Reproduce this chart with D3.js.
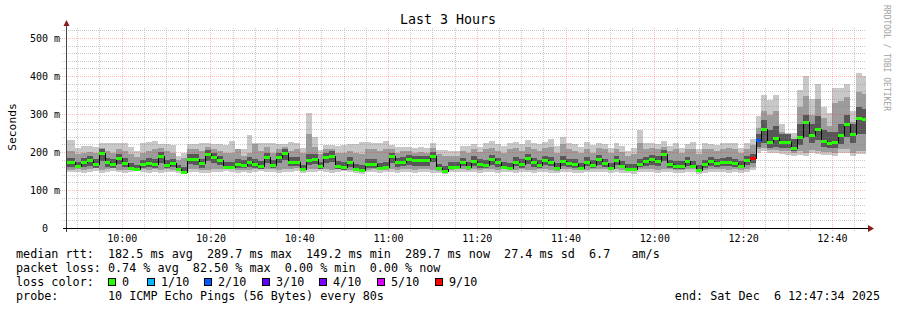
<!DOCTYPE html>
<html>
<head>
<meta charset="utf-8">
<script src="https://cdn.jsdelivr.net/npm/d3@7"></script>
<style>
  body { margin: 0; background: #fff; }
  text { font-family: "DejaVu Sans Mono", monospace; white-space: pre; }
</style>
</head>
<body>
<svg id="chart" width="897" height="310"></svg>
<script>
// one entry per 80s probe step, values in ms
const median = [
  174,165,175,181,171,200,175,171,185,173,160,156,169,173,169,191,167,
  172,156,150,184,184,172,196,187,180,163,163,171,168,175,171,165,189,
  168,188,199,176,176,156,180,183,164,187,192,165,161,175,157,155,171,
  171,160,163,190,174,176,183,179,179,179,192,158,152,163,163,175,
  163,178,170,168,182,174,162,160,176,170,185,174,168,180,176,160,178,172,170,160,176,168,183,
  172,160,179,165,157,157,171,177,183,178,195,169,164,164,177,165,153,169,177,172,174,176,172,165,181,185,
  232,262,228,237,227,228,212,241,281,247,262,231,226,228,246,274,249,291,288
];
const smokeMin = [
  148,150,146,148,152,147,150,152,148,146,150,152,149,147,150,146,150,
  148,145,143,150,150,147,146,148,150,152,150,147,148,146,150,152,148,
  150,147,148,150,152,145,148,150,152,148,147,150,152,148,145,143,148,
  150,146,148,150,147,150,148,147,150,148,147,145,143,148,150,148,
  148,150,146,148,150,147,149,148,146,150,148,147,150,148,146,145,148,150,147,146,148,150,148,
  148,146,150,147,145,144,148,150,149,147,150,148,146,145,150,148,143,147,148,150,148,147,150,146,148,155,
  200,205,198,198,195,194,192,194,190,198,195,194,194,190,200,200,190,195,195
];
const smokeMax = [
  233,212,216,216,214,225,225,225,225,225,214,203,225,228,231,222,222,
  220,190,200,222,222,226,226,222,222,220,231,200,210,247,225,225,225,
  225,222,222,227,225,212,305,242,207,220,220,218,220,222,222,227,227,
  226,225,229,220,214,214,214,212,214,212,225,207,207,203,203,216,
  218,222,215,225,230,222,218,226,228,222,232,226,222,228,235,218,242,226,222,215,228,220,226,
  222,212,226,218,205,212,260,225,226,222,230,218,225,212,222,228,210,225,222,220,226,225,225,212,225,235,
  295,352,337,352,276,251,251,365,402,340,379,321,305,370,370,379,308,410,400
];
const smokeLo = [
  155,156,153,156,158,155,157,158,155,153,156,157,156,155,157,154,157,
  155,152,150,157,157,155,155,156,157,158,157,155,155,153,157,158,156,
  157,155,156,157,158,152,156,157,158,156,155,157,158,155,152,150,155,
  157,153,155,157,155,157,156,155,157,156,154,152,150,155,157,156,
  155,157,154,156,157,155,156,155,154,157,155,155,157,156,153,152,156,157,155,153,155,157,156,
  156,154,157,155,152,151,156,157,157,155,157,156,154,153,157,156,150,155,156,157,156,155,157,154,156,162,
  208,212,206,206,204,203,200,204,200,206,204,202,202,200,208,208,200,205,205
];
const smokeHi = [
  205,195,200,202,198,212,205,198,210,205,195,188,200,205,210,212,205,
  198,180,185,210,208,205,215,210,205,200,198,208,190,198,222,205,215,
  200,210,215,205,210,198,250,215,195,210,208,200,198,205,200,195,210,
  208,205,210,210,200,205,205,200,202,200,212,195,190,192,192,205,
  200,210,202,208,212,205,200,210,212,205,215,208,205,212,215,200,222,210,205,198,210,200,212,
  208,198,210,202,192,196,225,210,212,208,215,205,210,200,208,210,195,208,210,205,210,212,210,200,210,220,
  265,310,300,310,255,240,235,320,350,300,340,290,270,330,335,345,280,360,355
];
const darkLo = [
  162,158,163,165,160,178,162,160,170,162,157,153,160,162,160,172,158,
  162,152,147,170,168,160,178,172,168,158,157,160,158,163,160,157,172,
  158,172,180,165,165,153,168,170,157,172,175,157,155,163,152,150,160,
  160,155,156,172,163,165,168,165,165,165,175,154,148,156,156,164,
  156,165,160,158,168,163,156,155,164,160,170,163,158,166,164,155,165,162,160,155,164,160,168,
  162,156,166,158,152,152,162,165,168,165,178,160,157,157,165,158,150,160,165,162,164,165,162,158,168,172,
  215,225,212,215,212,213,205,220,240,225,232,215,212,212,222,240,225,250,250
];
const darkHi = [
  185,175,186,192,182,210,186,182,196,185,172,168,180,186,182,202,180,
  184,168,162,195,195,184,206,198,192,175,175,183,180,187,184,178,200,
  180,200,210,188,188,168,195,196,176,198,203,177,174,188,170,168,183,
  183,172,176,200,186,188,194,190,190,190,202,170,165,175,175,186,
  176,190,182,180,194,186,174,172,188,182,197,186,180,192,188,172,190,184,182,172,188,180,194,
  184,172,190,177,170,170,183,189,194,190,206,181,177,177,189,177,166,181,189,184,186,188,184,177,192,195,
  250,285,260,270,250,248,235,275,300,275,295,260,255,255,275,300,275,320,315
];
// steps that lost pings
const lossStep = [115, 116];
const lossLevel = ["9/10", "2/10"];

const lossLabels = ["0", "1/10", "2/10", "3/10", "4/10", "5/10", "9/10"];
const lossColors = ["#26ff00", "#00b8ff", "#0059ff", "#5e00ff", "#7e00ff", "#dd00ff", "#ff0000"];
const yTicks = [0, 100, 200, 300, 400, 500];

const statLines = [
  "median rtt:  182.5 ms avg  289.7 ms max  149.2 ms min  289.7 ms now  27.4 ms sd  6.7   am/s",
  "packet loss: 0.74 % avg  82.50 % max  0.00 % min  0.00 % now"
];

const svg = d3.select("#chart");
svg.append("rect").attr("width", 897).attr("height", 310).attr("fill", "#fff");

// dotted grid patterns (1 px on, 1 px off)
const defs = svg.append("defs");
[["minH", 2, 1, "rgba(130,130,130,0.42)"], ["minV", 1, 2, "rgba(130,130,130,0.42)"],
 ["majH", 2, 1, "rgba(255,30,30,0.32)"], ["majV", 1, 2, "rgba(255,30,30,0.32)"]]
  .forEach(([id, w, h, c]) => {
    defs.append("pattern").attr("id", id).attr("patternUnits", "userSpaceOnUse")
      .attr("width", w).attr("height", h)
      .append("rect").attr("width", 1).attr("height", 1).attr("fill", c);
  });

const end = new Date(2025, 11, 6, 12, 47, 34);
const start = d3.timeHour.offset(end, -3);
const firstStep = d3.timeSecond.offset(start, 27);
const stepSec = 80;

const x = d3.scaleTime().domain([start, end]).range([67, 866]);
const y = d3.scaleLinear().domain([0, 500]).range([228.5, 38.5]);
const plotTop = 27;

const colorOf = lbl => lossColors[lossLabels.indexOf(lbl)];

const steps = d3.range(median.length).map(i => {
  const t0 = d3.timeSecond.offset(firstStep, i * stepSec);
  const t1 = d3.timeSecond.offset(firstStep, (i + 1) * stepSec);
  const li = lossStep.indexOf(i);
  return {
    i,
    x0: Math.round(i === 0 ? x(start) : x(t0)),
    x1: Math.round(Math.min(x(t1), x(end))),
    color: li < 0 ? lossColors[0] : colorOf(lossLevel[li])
  };
});

// smoke bands, outer to inner
const bands = [
  {lo: smokeMin, hi: smokeMax, fill: "#c8c8c8"},
  {lo: smokeLo, hi: smokeHi, fill: "#9c9c9c"},
  {lo: darkLo, hi: darkHi, fill: "#575757"}
];
const smoke = svg.append("g").attr("shape-rendering", "crispEdges");
bands.forEach(b => {
  smoke.append("g").attr("fill", b.fill)
    .selectAll("rect")
    .data(steps)
    .join("rect")
    .attr("x", d => d.x0)
    .attr("width", d => d.x1 - d.x0)
    .attr("y", d => Math.round(y(b.hi[d.i])))
    .attr("height", d => Math.round(y(b.lo[d.i])) - Math.round(y(b.hi[d.i])));
});

// grid
const grid = svg.append("g").attr("shape-rendering", "crispEdges");
const minorY = d3.range(20, 540, 20).filter(v => v % 100 !== 0);
const majorY = yTicks.filter(v => v > 0);
const minorX = d3.timeMinute.every(5).range(start, end).filter(t => t.getMinutes() % 20 !== 0);
const majorX = d3.timeMinute.every(20).range(start, end);
const row = v => Math.floor(y(v));
const col = t => Math.floor(x(t));

grid.selectAll(".hmin").data(minorY).join("rect")
  .attr("x", 62).attr("width", 804).attr("y", row).attr("height", 1)
  .attr("fill", "url(#minH)");
grid.selectAll(".vmin").data(minorX).join("rect")
  .attr("x", col).attr("width", 1).attr("y", plotTop).attr("height", 231 - plotTop)
  .attr("fill", "url(#minV)");
grid.selectAll(".hmaj").data(majorY).join("rect")
  .attr("x", 60).attr("width", 806).attr("y", row).attr("height", 1)
  .attr("fill", "url(#majH)");
grid.selectAll(".vmaj").data(majorX).join("rect")
  .attr("x", col).attr("width", 1).attr("y", plotTop).attr("height", 232 - plotTop)
  .attr("fill", "url(#majV)");

// median line: black steps, coloured by loss
const medPts = [];
steps.forEach(d => {
  const yy = Math.round(y(median[d.i])) + 0.5;
  medPts.push([d.x0, yy], [d.x1, yy]);
});
svg.append("path")
  .attr("d", d3.line()(medPts))
  .attr("fill", "none").attr("stroke", "#000").attr("stroke-width", 1)
  .attr("shape-rendering", "crispEdges");
svg.append("g").attr("shape-rendering", "crispEdges")
  .selectAll("rect").data(steps).join("rect")
  .attr("x", d => d.x0)
  .attr("width", d => d.x1 - d.x0)
  .attr("y", d => Math.round(y(median[d.i])) - 1)
  .attr("height", 3)
  .attr("fill", d => d.color);

// axes
svg.append("line").attr("x1", 66.5).attr("x2", 66.5).attr("y1", 232).attr("y2", 24)
  .attr("stroke", "#444").attr("shape-rendering", "crispEdges");
svg.append("line").attr("x1", 63).attr("x2", 869).attr("y1", 228.5).attr("y2", 228.5)
  .attr("stroke", "#000").attr("shape-rendering", "crispEdges");
svg.append("path").attr("d", "M63.5,26L69.5,26L66.5,20Z").attr("fill", "#8b1a1a");
svg.append("path").attr("d", "M868,225L868,232L874,228.5Z").attr("fill", "#8b1a1a");

// y labels
svg.append("g").attr("font-size", 10).attr("fill", "#000")
  .selectAll("text").data(yTicks).join("text")
  .attr("x", d => d === 0 ? 48 : 60)
  .attr("y", d => y(d) + 3.5)
  .attr("text-anchor", "end")
  .text(d => d === 0 ? "0" : d + " m");

// x labels
svg.append("g").attr("font-size", 10).attr("fill", "#000")
  .selectAll("text").data(majorX).join("text")
  .attr("x", d => x(d))
  .attr("y", 242)
  .attr("text-anchor", "middle")
  .text(d3.timeFormat("%H:%M"));

// title and side labels
svg.append("text").attr("x", 448).attr("y", 24).attr("text-anchor", "middle")
  .attr("font-size", 13.3).text("Last 3 Hours");
svg.append("text").attr("transform", "translate(16,127) rotate(-90)")
  .attr("text-anchor", "middle").attr("font-size", 11.3).text("Seconds");
svg.append("text").attr("transform", "translate(884,5) rotate(90)")
  .attr("font-size", 8).attr("fill", "#a0a0a0").text("RRDTOOL / TOBI OETIKER");

// legend
const legend = svg.append("g").attr("font-size", 11.75).attr("fill", "#000");
statLines.forEach((line, li) => {
  legend.append("text").attr("x", 16).attr("y", 258 + li * 14).text(line);
});
legend.append("text").attr("x", 16).attr("y", 286).text("loss color:");
const swatchX = [108, 147, 204, 262, 319, 377, 435];
lossLabels.forEach((lbl, i) => {
  legend.append("rect").attr("x", swatchX[i] + 0.5).attr("y", 278.5)
    .attr("width", 7).attr("height", 7)
    .attr("fill", lossColors[i]).attr("stroke", "#000").attr("shape-rendering", "crispEdges");
  legend.append("text").attr("x", swatchX[i] + 14).attr("y", 286).text(lbl);
});
legend.append("text").attr("x", 16).attr("y", 300).text("probe:       10 ICMP Echo Pings (56 Bytes) every 80s");
legend.append("text").attr("x", 880).attr("y", 300).attr("text-anchor", "end")
  .text("end: Sat Dec  6 12:47:34 2025");
</script>
</body>
</html>
